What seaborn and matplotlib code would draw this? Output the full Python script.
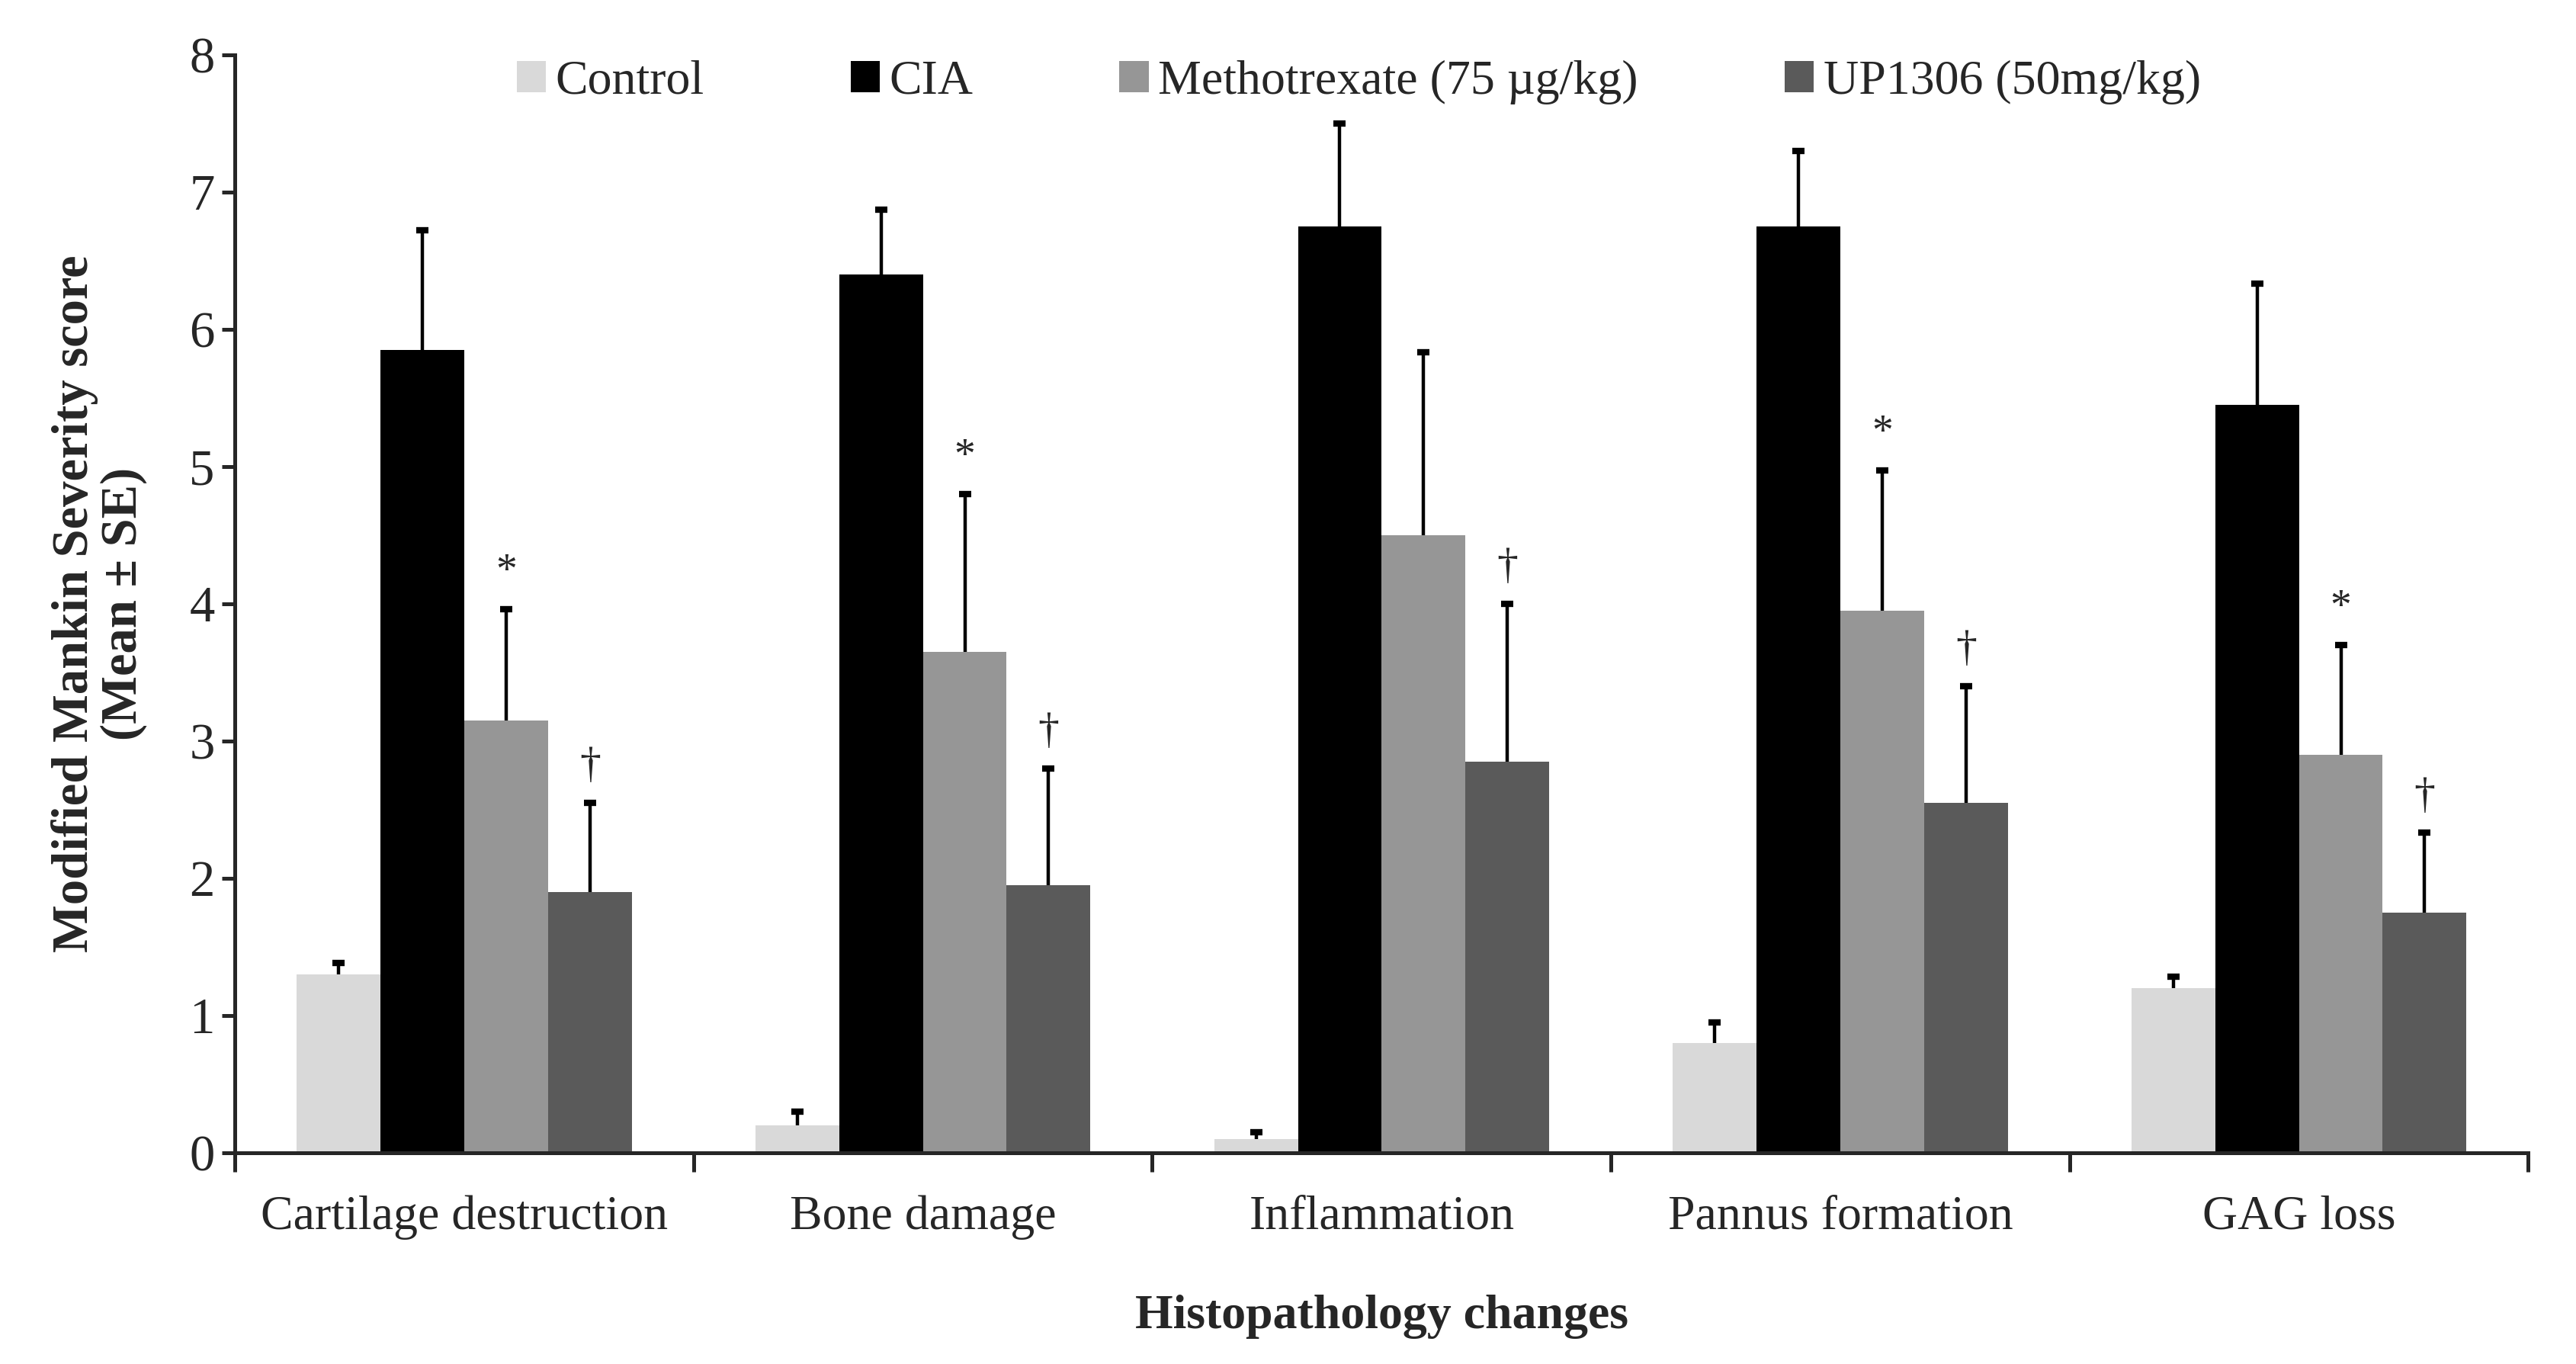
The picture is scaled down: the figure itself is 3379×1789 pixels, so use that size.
import numpy as np
import pandas as pd
import matplotlib
matplotlib.use('Agg')
import matplotlib.pyplot as plt
import seaborn as sns

# 데이터
categories = ['Cartilage destruction', 'Bone damage', 'Inflammation', 'Pannus formation', 'GAG loss']
groups = ['Control', 'CIA', 'Methotrexate (75 µg/kg)', 'UP1306 (50mg/kg)']

control_mean = [1.30, 0.20, 0.10, 0.80, 1.20]
cia_mean = [5.85, 6.40, 6.75, 6.75, 5.45]
mtx_mean = [3.15, 3.65, 4.50, 3.95, 2.90]
up_mean = [1.90, 1.95, 2.85, 2.55, 1.75]

control_se = [0.08, 0.10, 0.05, 0.15, 0.08]
cia_se = [0.87, 0.47, 0.75, 0.55, 0.88]
mtx_se = [0.81, 1.15, 1.33, 1.02, 0.80]
up_se = [0.65, 0.85, 1.15, 0.85, 0.58]

control_marks = ['', '', '', '', '']
cia_marks = ['', '', '', '', '']
mtx_marks = ['*', '*', '', '*', '*']
up_marks = ['†', '†', '†', '†', '†']

colors = ['#d9d9d9', '#000000', '#969696', '#5a5a5a']

means = [control_mean, cia_mean, mtx_mean, up_mean]
ses = [control_se, cia_se, mtx_se, up_se]
marks = [control_marks, cia_marks, mtx_marks, up_marks]

df = pd.DataFrame({
    'category': np.tile(categories, len(groups)),
    'group': np.repeat(groups, len(categories)),
    'score': np.concatenate(means),
})

sns.set_style('ticks')
plt.rcParams['font.family'] = ['Liberation Serif', 'DejaVu Serif']
plt.rcParams['axes.linewidth'] = 1.8

fig = plt.figure(figsize=(3379 / 200, 1789 / 200), dpi=200)
ax = fig.add_axes([0.0912, 0.155, 0.8903, 0.805])

sns.barplot(data=df, x='category', y='score', hue='group', order=categories,
            hue_order=groups, palette=colors, errorbar=None, width=0.73,
            saturation=1, ax=ax, linewidth=0)

# 에러바 (위쪽만, 위 끝에만 캡) 및 유의성 표시
for container, se, mk in zip(ax.containers, ses, marks):
    xs = np.array([b.get_x() + b.get_width() / 2 for b in container])
    hs = np.array([b.get_height() for b in container])
    tops = hs + np.array(se)
    ax.vlines(xs, hs, tops, colors='black', linewidth=1.6, zorder=3)
    ax.plot(xs, tops, linestyle='none', marker='_', markersize=6,
            markeredgewidth=3, color='black', zorder=3)
    for x, t, m in zip(xs, tops, mk):
        if m:
            ax.text(x, t + 0.12, m, ha='center', va='bottom', fontsize=20)

ax.set_ylim(0, 8)
ax.set_xlim(-0.5, len(categories) - 0.5)
ax.set_yticks(range(0, 9))
ax.tick_params(axis='y', labelsize=24, width=1.8, length=6, direction='out')

# x축: 경계에 눈금, 중앙에 라벨
ax.set_xticks(np.arange(-0.5, len(categories)), minor=False)
ax.set_xticklabels([])
ax.set_xticks(range(len(categories)), minor=True)
ax.set_xticklabels(categories, minor=True)
ax.tick_params(axis='x', which='major', width=1.8, length=9, direction='out')
ax.tick_params(axis='x', which='minor', length=0, labelsize=23, pad=20)

sns.despine(ax=ax)

ax.set_ylabel('Modified Mankin Severity score\n(Mean ± SE)', fontsize=24,
              fontweight='bold', labelpad=20, linespacing=1.05)
ax.set_xlabel('Histopathology changes', fontsize=23, fontweight='bold', labelpad=26)

ax.legend(loc='upper center', bbox_to_anchor=(0.49, 1.035), ncol=4, frameon=False,
          fontsize=23, handlelength=0.6, handleheight=0.6, handletextpad=0.2,
          columnspacing=3.0)

plt.savefig('out.png', dpi=200)
plt.close()
